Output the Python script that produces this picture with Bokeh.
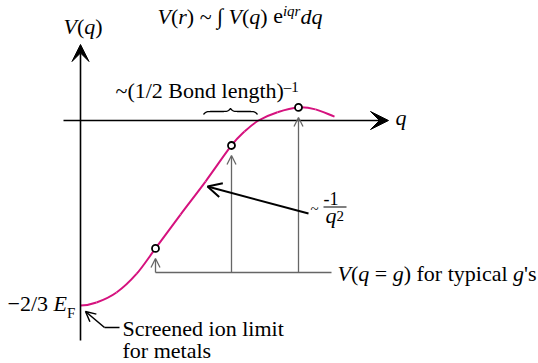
import math

from bokeh.core.properties import value
from bokeh.embed import file_html
from bokeh.models import Arrow, ColumnDataSource, OpenHead, Range1d, VeeHead
from bokeh.plotting import figure
from bokeh.resources import INLINE

# Screened pseudopotential form factor V(q); V in units of E_F, q in arbitrary units
q_vals = [0.00, 0.16, 0.36, 0.56, 0.75, 1.00, 1.25, 1.51, 1.64, 1.78, 1.97, 2.18, 2.35, 2.54]
v_vals = [-2 / 3, -0.656, -0.620, -0.553, -0.461, -0.339, -0.220, -0.090, -0.040, 0.000,
          0.030, 0.047, 0.040, 0.014]
# typical reciprocal lattice vectors g, where V(q = g) is sampled
g_idx = [4, 7, 11]
g_vals = [q_vals[i] for i in g_idx]
v_at_g = [v_vals[i] for i in g_idx]
# span of q marked as ~(1/2 bond length)^-1
brace_q = [1.23, 1.77]

W, H = 538, 363
PX_Q = 100.0      # pixels per unit of q
PX_V = 277.5      # pixels per E_F
X0, Y0 = 80, 120  # where the axes cross, in page pixels

INK = "black"
GREY = "#666666"
CURVE = "#d5127e"
FONT = value("Liberation Serif")


def qx(px):
    return (px - X0) / PX_Q


def vy(py):
    return (Y0 - py) / PX_V


p = figure(width=W, height=H, x_range=Range1d(qx(0), qx(W)), y_range=Range1d(vy(H), vy(0)),
           x_axis_type=None, y_axis_type=None, toolbar_location=None,
           output_backend="svg", min_border=0, outline_line_color=None)
p.background_fill_color = "white"
p.border_fill_color = "white"

# axes drawn as arrows
p.add_layout(Arrow(x_start=0, y_start=vy(340), x_end=0, y_end=vy(44), line_color=INK,
                   line_width=1.6,
                   end=VeeHead(size=17, fill_color=INK, line_color=INK, line_width=1)))
p.add_layout(Arrow(x_start=qx(63), y_start=0, x_end=qx(388), y_end=0, line_color=INK,
                   line_width=1.6,
                   end=VeeHead(size=18, fill_color=INK, line_color=INK, line_width=1)))

# V(q = g) markers: a common base line with arrows up to each sampled point
v_base = vy(272)
p.line([g_vals[0], qx(331)], [v_base, v_base], line_color=GREY, line_width=1.3)
gap = 10 / PX_V
g_src = ColumnDataSource(dict(x=g_vals, y0=[v_base] * len(g_vals),
                              y1=[v - gap for v in v_at_g]))
p.add_layout(Arrow(source=g_src, x_start="x", y_start="y0", x_end="x", y_end="y1",
                   line_color=GREY, line_width=1.3,
                   end=OpenHead(size=9, line_color=GREY, line_width=1.3)))

# smooth curve: Catmull-Rom segments through the samples, mirrored at q = 0 (V is even in q)
pts = [(-q_vals[1], v_vals[1])] + list(zip(q_vals, v_vals))
pts.append((2 * q_vals[-1] - q_vals[-2], 2 * v_vals[-1] - v_vals[-2]))
seg = dict(x0=[], y0=[], x1=[], y1=[], cx0=[], cy0=[], cx1=[], cy1=[])
for i in range(1, len(pts) - 2):
    pm, p0, p1, p2 = pts[i - 1], pts[i], pts[i + 1], pts[i + 2]
    seg["x0"].append(p0[0]); seg["y0"].append(p0[1])
    seg["x1"].append(p1[0]); seg["y1"].append(p1[1])
    seg["cx0"].append(p0[0] + (p1[0] - pm[0]) / 6); seg["cy0"].append(p0[1] + (p1[1] - pm[1]) / 6)
    seg["cx1"].append(p1[0] - (p2[0] - p0[0]) / 6); seg["cy1"].append(p1[1] - (p2[1] - p0[1]) / 6)
p.bezier(x0="x0", y0="y0", x1="x1", y1="y1", cx0="cx0", cy0="cy0", cx1="cx1", cy1="cy1",
         source=ColumnDataSource(seg), line_color=CURVE, line_width=2)

p.scatter(g_vals, v_at_g, marker="circle", size=7, fill_color="white", line_color=INK,
          line_width=1.8)

# curly brace over the bond-length span
half_px = (brace_q[1] - brace_q[0]) * PX_Q / 2
n = 40
beta = 0.8
half = [half_px * k / (n - 1) for k in range(n)]
shape = [1 / (1 + math.exp(-beta * t)) + 1 / (1 + math.exp(-beta * (t - half_px))) for t in half]
bx = [brace_q[0] + t / PX_Q for t in half] + [brace_q[0] + (2 * half_px - t) / PX_Q for t in half[-2::-1]]
by_flat = vy(111)
by = [by_flat + (s - 1) * 6 / PX_V for s in shape + shape[-2::-1]]
p.line(bx, by, line_color=INK, line_width=1.3)

# -1/q^2 pointer
p.add_layout(Arrow(x_start=qx(308), y_start=vy(213), x_end=qx(207), y_end=vy(186),
                   line_color=INK, line_width=2,
                   end=OpenHead(size=14, line_color=INK, line_width=2)))
p.line([qx(323), qx(346)], [vy(206.5), vy(206.5)], line_color=INK, line_width=1.2)

# screened ion limit pointer
elbow = (qx(104), vy(327))
p.line([elbow[0], qx(119)], [elbow[1], elbow[1]], line_color=INK, line_width=1.5)
p.add_layout(Arrow(x_start=elbow[0], y_start=elbow[1], x_end=q_vals[0] + 5 / PX_Q,
                   y_end=v_vals[0] - 6 / PX_V, line_color=INK, line_width=1.5,
                   end=OpenHead(size=10, line_color=INK, line_width=1.5)))

# text, laid out run by run with Times-metric advances
ROMAN = {" ": 250, "(": 333, ")": 333, "/": 278, "-": 333, "\u2212": 564, "\u2013": 500,
         "~": 541, "\u222b": 274, "=": 564, "'": 180, "B": 667, "E": 611, "F": 556,
         "S": 556, "V": 722, "a": 444, "c": 444, "d": 500, "e": 444, "f": 333, "g": 500,
         "h": 500, "i": 278, "l": 278, "m": 778, "n": 500, "o": 500, "p": 500, "q": 500,
         "r": 333, "s": 389, "t": 278, "y": 500}
ITALIC = {"V": 611, "q": 500, "r": 389, "g": 500, "E": 611, "d": 500, "i": 278, "e": 444}
BASE_SHIFT = 0.33  # baseline correction of the text glyph, in em

texts = dict(x=[], y=[], text=[], style=[], size=[])


def advance(s, italic, size):
    table = ITALIC if italic else ROMAN
    return sum(table.get(ch, 500) for ch in s) * size / 1000


def runs(x_px, base_px, parts):
    x = x_px
    for part in parts:
        s, it = part[0], part[1]
        size = part[2] if len(part) > 2 else 22
        rise = part[3] if len(part) > 3 else 0
        core = s.strip(" ")
        lead = len(s) - len(s.lstrip(" "))
        x += advance(" " * lead, it, size)
        texts["x"].append(qx(x))
        texts["y"].append(vy(base_px - rise - BASE_SHIFT * size))
        texts["text"].append(core)
        texts["style"].append("italic" if it else "normal")
        texts["size"].append(f"{size}px")
        x += advance(s[lead:], it, size)


R, I = False, True
runs(157, 23, [("V", I), ("(", R), ("r", I), (")", R), (" ~ ", R), ("\u222b", R), (" ", R),
               ("V", I), ("(", R), ("q", I), (")", R), (" e", R), ("iqr", I, 15, 8),
               ("d", I), ("q", I)])
runs(63, 33, [("V", I), ("(", R), ("q", I), (")", R)])
runs(115, 97, [("~(1/2 Bond length)", R), ("\u2013", R, 15, 6), ("1", R, 15, 6)])
runs(395, 124, [("q", I)])
runs(7, 310, [("\u22122/3 ", R), ("E", I), ("F", R, 15, -7)])
runs(122, 335, [("Screened ion limit", R)])
runs(122, 357, [("for metals", R)])
runs(337, 280, [("V", I), ("(", R), ("q", I), (" = ", R), ("g", I), (") for typical ", R),
                ("g", I), ("'s", R)])
runs(310, 213, [("~", R, 15)])
runs(323, 204, [("-1", R, 18)])
runs(325, 222, [("q", I), ("2", R, 15, 2)])

p.text(x="x", y="y", text="text", source=ColumnDataSource(texts), text_font=FONT,
       text_font_style="style", text_font_size="size", text_baseline="alphabetic",
       text_align="left", text_color=INK)

open("out.html", "w").write(file_html(p, INLINE))
